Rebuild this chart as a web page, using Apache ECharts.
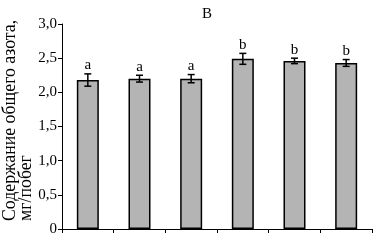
<!DOCTYPE html>
<html>
<head>
<meta charset="utf-8">
<script src="https://cdn.jsdelivr.net/npm/echarts@6/dist/echarts.min.js"></script>
<style>
  html, body { margin: 0; padding: 0; background: #fff; }
  #chart { width: 381px; height: 245px; }
</style>
</head>
<body>
<div id="chart"></div>
<script>
const categories = ['1', '2', '3', '4', '5', '6']
const values = [2.18, 2.20, 2.20, 2.49, 2.46, 2.43]
const errors = [0.09, 0.05, 0.06, 0.08, 0.04, 0.05]
const letters = ['a', 'a', 'a', 'b', 'b', 'b']
const yTicks = [0, 0.5, 1.0, 1.5, 2.0, 2.5, 3.0]

const font = 'Liberation Serif'
const chart = echarts.init(document.getElementById('chart'))

const option = {
  animation: false,
  grid: { left: 62, right: 9, top: 24, bottom: 16 },
  title: {
    text: 'В',
    left: 197,
    top: 2,
    textStyle: { fontFamily: font, fontSize: 15, fontWeight: 'normal', color: '#000' }
  },
  graphic: [
    {
      type: 'text',
      x: 18,
      y: 221,
      rotation: Math.PI / 2,
      style: {
        text: 'Содержание общего азота,\nмг/побег',
        fontFamily: font,
        fontSize: 17.8,
        fill: '#000',
        align: 'left',
        verticalAlign: 'middle',
        lineHeight: 16
      }
    }
  ],
  xAxis: {
    type: 'category',
    data: categories,
    axisLine: { lineStyle: { color: '#000', width: 1 } },
    axisTick: { show: true, length: 4, lineStyle: { color: '#000' } },
    axisLabel: { show: false }
  },
  yAxis: {
    type: 'value',
    min: 0,
    max: 3,
    interval: 0.5,
    axisLine: { show: true, lineStyle: { color: '#000', width: 1 } },
    axisTick: { show: true, length: 4, lineStyle: { color: '#000' } },
    splitLine: { show: false },
    axisLabel: {
      margin: 5,
      fontFamily: font,
      fontSize: 15,
      color: '#000',
      formatter: v => {
        if (!yTicks.includes(v)) return ''
        return v === 0 ? '0' : v.toFixed(1).replace('.', ',')
      }
    }
  },
  series: [
    {
      type: 'bar',
      data: values,
      barWidth: 22,
      itemStyle: { color: '#b4b4b4', borderColor: '#000', borderWidth: 1.5 }
    },
    {
      type: 'custom',
      data: values.map((v, i) => [i, v, errors[i]]),
      z: 10,
      renderItem: (params, api) => {
        const i = api.value(0)
        const v = api.value(1)
        const e = api.value(2)
        const hi = api.coord([i, v + e])
        const lo = api.coord([i, v - e])
        const x = hi[0]
        const w = 3.5
        const st = { stroke: '#000', lineWidth: 1.5 }
        return {
          type: 'group',
          children: [
            { type: 'line', shape: { x1: x, y1: hi[1], x2: x, y2: lo[1] }, style: st },
            { type: 'line', shape: { x1: x - w, y1: hi[1], x2: x + w, y2: hi[1] }, style: st },
            { type: 'line', shape: { x1: x - w, y1: lo[1], x2: x + w, y2: lo[1] }, style: st },
            {
              type: 'text',
              x: x,
              y: hi[1] - 1,
              style: {
                text: letters[i],
                fontFamily: font,
                fontSize: 15,
                fill: '#000',
                align: 'center',
                verticalAlign: 'bottom'
              }
            }
          ]
        }
      }
    }
  ]
}

chart.setOption(option)
window.addEventListener('resize', () => chart.resize())
</script>
</body>
</html>
